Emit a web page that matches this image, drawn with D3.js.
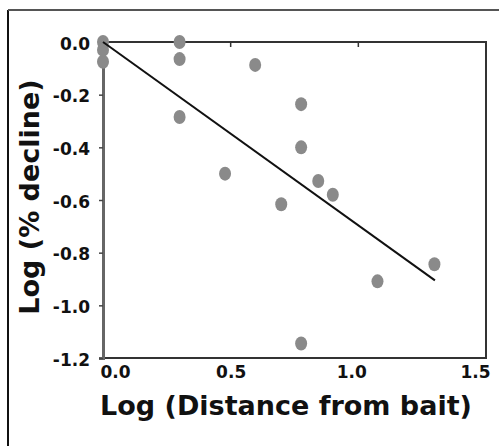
<!DOCTYPE html>
<html>
<head>
<meta charset="utf-8">
<script src="https://cdn.jsdelivr.net/npm/d3@7"></script>
<style>
  body { margin: 0; background: #fff; }
  text { font-family: "DejaVu Sans", Verdana, sans-serif; font-weight: bold; fill: #111; }
</style>
</head>
<body>
<svg id="chart" width="499" height="446"></svg>
<script>
// data: log distance vs log % decline
var distLog    = [0, 0, 0, 0.30, 0.30, 0.30, 0.478, 0.596, 0.776, 0.776, 0.843, 0.90, 0.698, 0.776, 1.075, 1.298];
var declineLog = [0, -0.03, -0.075, 0, -0.065, -0.285, -0.50, -0.087, -0.236, -0.40, -0.528, -0.58, -0.616, -1.145, -0.909, -0.844];
var fitX       = [0, 1.3];
var fitY       = [0, -0.905];
var xTicks     = [0, 0.5, 1.0, 1.5];
var yTicks     = [0, -0.2, -0.4, -0.6, -0.8, -1.0, -1.2];

var svg = d3.select('#chart');

// outer frame (only left and top edges show in the crop)
svg.append('line').attr('x1', 8).attr('y1', 10).attr('x2', 8).attr('y2', 446)
  .attr('stroke', '#111').attr('stroke-width', 2);
svg.append('line').attr('x1', 8).attr('y1', 10).attr('x2', 499).attr('y2', 10)
  .attr('stroke', '#555').attr('stroke-width', 2);

// plot box edges (note: "top" is taken by window.top)
var pLeft = 103, pRight = 486, pTop = 42, pBottom = 358;

var x = d3.scaleLinear().domain([0, 1.5]).range([pLeft, pRight]);
var y = d3.scaleLinear().domain([-1.2, 0]).range([pBottom, pTop]);

var fmt = function(d){ return d.toFixed(1); };

// plot box
svg.append('rect')
  .attr('x', pLeft).attr('y', pTop)
  .attr('width', pRight - pLeft).attr('height', pBottom - pTop)
  .attr('fill', 'none').attr('stroke', '#333').attr('stroke-width', 2);

// y axis
var gy = svg.append('g')
  .attr('transform', 'translate(' + pLeft + ',0)')
  .call(d3.axisLeft(y).tickValues(yTicks).tickFormat(fmt).tickSize(4).tickPadding(9));
gy.select('.domain').attr('stroke', '#666').attr('stroke-width', 3);
gy.selectAll('.tick line').attr('stroke', '#444').attr('stroke-width', 1.5);
gy.selectAll('.tick text').style('font-size', '17px').attr('dy', '0.42em').attr('fill', '#111');

// x axis labels (no ticks at the bottom)
var gx = svg.append('g')
  .attr('transform', 'translate(0,' + pBottom + ')')
  .call(d3.axisBottom(x).tickValues(xTicks).tickFormat(fmt).tickSize(0).tickPadding(8));
gx.select('.domain').remove();
gx.selectAll('.tick text').style('font-size', '17px').attr('fill', '#111')
  .each(function(d, i){
    var t = d3.select(this);
    if (i === 0) t.attr('text-anchor', 'start').attr('x', -3);
    else if (i === xTicks.length - 1) t.attr('text-anchor', 'end').attr('x', 4);
    else if (i === 2) t.attr('x', -7);
  });

// small ticks hanging from the top edge
svg.selectAll('.topTick')
  .data(xTicks.slice(1, 3))
  .enter().append('line')
    .attr('class', 'topTick')
    .attr('x1', function(d){ return x(d); }).attr('x2', function(d){ return x(d); })
    .attr('y1', pTop).attr('y2', pTop + 5)
    .attr('stroke', '#333').attr('stroke-width', 1.5);

// points
var pts = distLog.map(function(d, i){ return { x: d, y: declineLog[i] }; });
svg.selectAll('.pt')
  .data(pts)
  .enter().append('ellipse')
    .attr('class', 'pt')
    .attr('cx', function(d){ return x(d.x); })
    .attr('cy', function(d){ return y(d.y); })
    .attr('rx', 6).attr('ry', 7)
    .attr('fill', '#8a8a8a');

// regression line
var fit = fitX.map(function(d, i){ return [d, fitY[i]]; });
svg.append('path')
  .datum(fit)
  .attr('d', d3.line().x(function(d){ return x(d[0]); }).y(function(d){ return y(d[1]); }))
  .attr('stroke', '#111').attr('stroke-width', 2).attr('fill', 'none');

// axis titles
svg.append('text')
  .attr('x', 286).attr('y', 415)
  .attr('text-anchor', 'middle')
  .style('font-size', '27px')
  .text('Log (Distance from bait)');

svg.append('text')
  .attr('transform', 'translate(39,197) rotate(-90)')
  .attr('text-anchor', 'middle')
  .style('font-size', '27px')
  .text('Log (% decline)');
</script>
</body>
</html>
